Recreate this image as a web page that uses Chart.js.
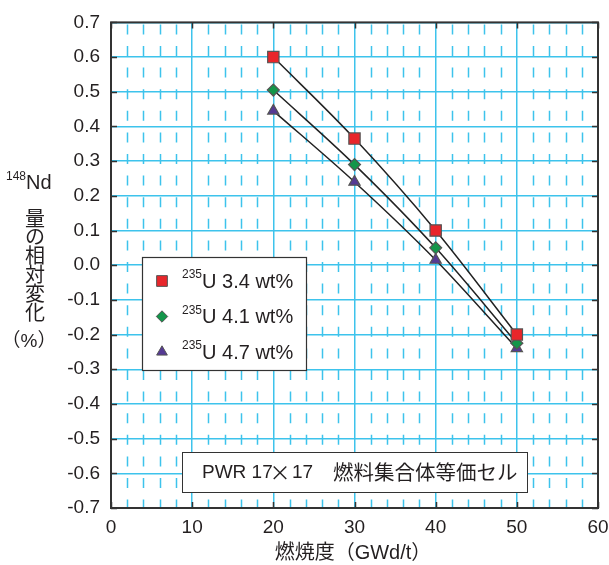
<!DOCTYPE html>
<html>
<head>
<meta charset="utf-8">
<script src="https://cdn.jsdelivr.net/npm/chart.js@4.4.0/dist/chart.umd.min.js"></script>
<style>
  html, body { margin: 0; padding: 0; background: #fff; }
  canvas { display: block; }
</style>
</head>
<body>
<canvas id="chart" width="609" height="565"></canvas>
<script>
// --- values ---
const burnup = [20, 30, 40, 50];                 // GWd/t
const ndU34 = [0.60, 0.365, 0.10, -0.20];        // 235U 3.4 wt%
const ndU41 = [0.505, 0.29, 0.05, -0.225];       // 235U 4.1 wt%
const ndU47 = [0.445, 0.24, 0.015, -0.24];       // 235U 4.7 wt%
const enrichLabels = ['3.4 wt%', '4.1 wt%', '4.7 wt%'];
const xTickValues = [0, 10, 20, 30, 40, 50, 60];
const yTitleChars = ['量', 'の', '相', '対', '変', '化'];
const boxLatin = ['PWR 17', '17'];
const boxCjk = '燃料集合体等価セル';
const xTitle = '燃焼度（GWd/t）';

const GRID = '#3dc3ec';
const INK = '#231f20';
const LATIN = "'Liberation Sans', Arial, sans-serif";
const MIXED = "'Liberation Sans', 'Noto Sans CJK JP', sans-serif";
const CJK = "'Noto Sans CJK JP', sans-serif";

function series(ys) {
    return burnup.map((x, i) => ({ x: x, y: ys[i] }));
}

const markerStyles = [
    { pointStyle: 'rect', radius: 8, fill: '#e8262b' },
    { pointStyle: 'rectRot', radius: 6, fill: '#13964a' },
    { pointStyle: 'triangle', radius: 6.5, fill: '#553a94' }
];

const datasets = [ndU34, ndU41, ndU47].map((ys, i) => ({
    label: enrichLabels[i],
    data: series(ys),
    showLine: true,
    borderColor: '#222',
    borderWidth: 1.5,
    cubicInterpolationMode: 'monotone',
    pointStyle: markerStyles[i].pointStyle,
    pointRadius: markerStyles[i].radius,
    pointBackgroundColor: markerStyles[i].fill,
    pointBorderColor: '#555',
    pointBorderWidth: 1.2
}));

// --- frame, minor dashes, inward ticks, boxes and titles ---
const decorations = {
    id: 'decorations',
    beforeDatasetsDraw(chart) {
        const { ctx, chartArea: a, scales: { x, y } } = chart;
        ctx.save();
        // minor dashed verticals every 2 GWd/t
        ctx.strokeStyle = GRID;
        ctx.lineWidth = 1.5;
        ctx.setLineDash([10, 11.6]);
        ctx.lineDashOffset = -2;
        for (let v = x.min + 2; v < x.max; v += 2) {
            if (v % 10 === 0) continue;
            const px = Math.round(x.getPixelForValue(v)) + 0.5;
            ctx.beginPath();
            ctx.moveTo(px, a.top);
            ctx.lineTo(px, a.bottom);
            ctx.stroke();
        }
        ctx.setLineDash([]);

        // frame
        ctx.strokeStyle = '#333';
        ctx.lineWidth = 2;
        ctx.strokeRect(a.left, a.top, a.width, a.height);

        // inward tick marks
        ctx.lineWidth = 1.5;
        const tl = 6;
        y.ticks.forEach(t => {
            const py = Math.round(y.getPixelForValue(t.value)) + 0.5;
            ctx.beginPath();
            ctx.moveTo(a.left, py); ctx.lineTo(a.left + tl, py);
            ctx.moveTo(a.right, py); ctx.lineTo(a.right - tl, py);
            ctx.stroke();
        });
        x.ticks.forEach(t => {
            const px = Math.round(x.getPixelForValue(t.value)) + 0.5;
            ctx.beginPath();
            ctx.moveTo(px, a.top); ctx.lineTo(px, a.top + tl);
            ctx.moveTo(px, a.bottom); ctx.lineTo(px, a.bottom - tl);
            ctx.stroke();
        });
        ctx.restore();
    },
    afterDatasetsDraw(chart) {
        const { ctx } = chart;
        ctx.save();
        ctx.textBaseline = 'middle';

        // legend box
        ctx.fillStyle = '#fff';
        ctx.fillRect(142, 257, 165, 114);
        ctx.strokeStyle = '#333';
        ctx.lineWidth = 1.2;
        ctx.strokeRect(142.5, 257.5, 164, 113);
        chart.data.datasets.forEach((ds, i) => {
            const cy = 281 + i * 35.5;
            ctx.fillStyle = ds.pointBackgroundColor;
            ctx.strokeStyle = ds.pointBorderColor;
            ctx.lineWidth = 1;
            Chart.helpers.drawPoint(ctx, {
                pointStyle: ds.pointStyle,
                radius: ds.pointRadius * 0.95,
                rotation: 0,
                borderWidth: 1
            }, 162, cy);
            ctx.fillStyle = INK;
            ctx.textAlign = 'left';
            ctx.font = '12px ' + LATIN;
            ctx.fillText('235', 182, cy - 6);
            const w = ctx.measureText('235').width;
            ctx.font = '20px ' + LATIN;
            ctx.fillText('U ' + ds.label, 182 + w, cy + 1);
        });

        // annotation box
        ctx.fillStyle = '#fff';
        ctx.fillRect(182, 452, 346, 41);
        ctx.strokeStyle = '#333';
        ctx.strokeRect(182.5, 452.5, 345, 40);
        ctx.fillStyle = INK;
        ctx.textAlign = 'left';
        ctx.font = '19px ' + LATIN;
        ctx.fillText(boxLatin[0], 202, 473);
        ctx.fillText(boxLatin[1], 292, 473);
        ctx.font = '21px ' + CJK;
        ctx.textAlign = 'center';
        ctx.fillText('×', 280, 472);
        ctx.textAlign = 'left';
        ctx.font = '20.5px ' + CJK;
        ctx.fillText(boxCjk, 333, 472);

        // x title
        ctx.textAlign = 'center';
        ctx.font = '20px ' + MIXED;
        ctx.fillText(xTitle, 353, 553);

        // y title (vertical)
        ctx.textAlign = 'left';
        ctx.font = '12px ' + LATIN;
        ctx.fillText('148', 6, 177);
        const w148 = ctx.measureText('148').width;
        ctx.font = '20px ' + LATIN;
        ctx.fillText('Nd', 6 + w148, 183);
        ctx.textAlign = 'center';
        ctx.font = '20px ' + CJK;
        yTitleChars.forEach((c, i) => ctx.fillText(c, 35, 218 + i * 18.8));
        ctx.font = '19px ' + MIXED;
        ctx.fillText('（%）', 29, 342);
        ctx.restore();
    }
};

new Chart(document.getElementById('chart'), {
    type: 'scatter',
    data: { datasets: datasets },
    plugins: [decorations],
    options: {
        responsive: false,
        animation: false,
        layout: { padding: { top: 20, right: 11, left: 0, bottom: 0 } },
        plugins: { legend: { display: false }, tooltip: { enabled: false } },
        scales: {
            x: {
                type: 'linear',
                min: 0, max: 60,
                afterBuildTicks(scale) { scale.ticks = xTickValues.map(v => ({ value: v })); },
                afterFit(scale) {
                    scale.height = 57;
                    scale.paddingLeft = 0;
                    scale.paddingRight = 0;
                },
                grid: { color: GRID, lineWidth: 1.5, drawTicks: false },
                border: { display: false },
                ticks: { color: INK, padding: 8, font: { family: LATIN, size: 19 }, maxRotation: 0 }
            },
            y: {
                min: -0.7, max: 0.7,
                afterFit(scale) { scale.width = 111; },
                grid: { color: GRID, lineWidth: 1.5, drawTicks: false },
                border: { display: false },
                ticks: {
                    stepSize: 0.1, color: INK, padding: 11,
                    font: { family: LATIN, size: 19 },
                    callback: v => v.toFixed(1)
                }
            }
        }
    }
});
</script>
</body>
</html>
